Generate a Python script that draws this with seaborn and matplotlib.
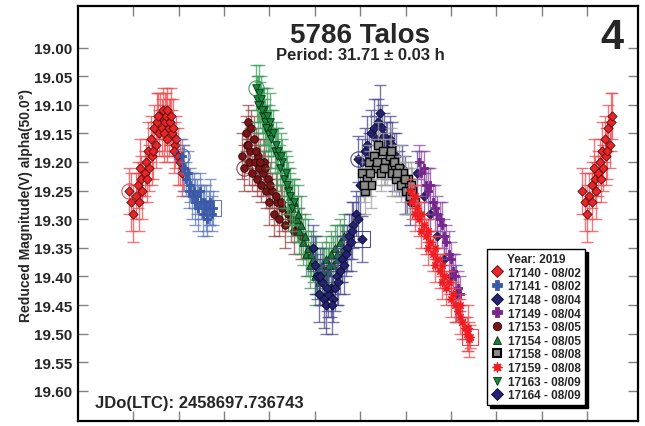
import numpy as np
import pandas as pd
import matplotlib
matplotlib.use("Agg")
import matplotlib.pyplot as plt
from matplotlib.lines import Line2D
import seaborn as sns

# ---------------- data (phase, reduced magnitude, error) ----------------
sessions = ["17140", "17141", "17148", "17149", "17153",
            "17154", "17158", "17159", "17163", "17164"]
dates = ["08/02", "08/02", "08/04", "08/04", "08/05",
         "08/05", "08/08", "08/08", "08/09", "08/09"]

ph_17140 = [-0.010, -0.005, 0.000, 0.005, 0.010, 0.012, 0.018, 0.020, 0.025, 0.028,
            0.032, 0.035, 0.040, 0.042, 0.046, 0.050, 0.053, 0.057, 0.060, 0.063,
            0.066, 0.070, 0.072, 0.075, 0.078, 0.081, 0.085, 0.088, 0.092, 0.095,
            0.099, 0.103, 0.107, 0.110, 0.015, 0.030, 0.044, 0.055, 0.068, 0.074,
            0.083, 0.090]
mg_17140 = [19.25, 19.27, 19.29, 19.26, 19.24, 19.27, 19.23, 19.25, 19.22, 19.20,
            19.18, 19.21, 19.16, 19.19, 19.14, 19.17, 19.13, 19.15, 19.12, 19.14,
            19.11, 19.13, 19.12, 19.11, 19.14, 19.13, 19.15, 19.14, 19.17, 19.16,
            19.19, 19.20, 19.22, 19.21, 19.21, 19.23, 19.18, 19.12, 19.15, 19.16,
            19.12, 19.18]
er_17140 = [0.04, 0.05, 0.05, 0.04, 0.04, 0.05, 0.04, 0.05, 0.04, 0.04,
            0.05, 0.04, 0.04, 0.05, 0.04, 0.04, 0.05, 0.04, 0.04, 0.05,
            0.04, 0.05, 0.04, 0.04, 0.05, 0.04, 0.04, 0.05, 0.04, 0.04,
            0.05, 0.04, 0.04, 0.04, 0.05, 0.04, 0.05, 0.04, 0.05, 0.04,
            0.05, 0.04]

ph_17141 = [0.108, 0.112, 0.116, 0.120, 0.123, 0.126, 0.130, 0.133, 0.136, 0.140,
            0.143, 0.146, 0.150, 0.153, 0.156, 0.160, 0.163, 0.166, 0.170, 0.173, 0.176]
mg_17141 = [19.19, 19.21, 19.23, 19.22, 19.25, 19.24, 19.26, 19.25, 19.27, 19.26,
            19.28, 19.25, 19.27, 19.29, 19.27, 19.28, 19.30, 19.28, 19.27, 19.29, 19.28]
er_17141 = [0.03, 0.04, 0.03, 0.04, 0.03, 0.03, 0.04, 0.03, 0.04, 0.03,
            0.04, 0.03, 0.03, 0.04, 0.03, 0.04, 0.03, 0.03, 0.04, 0.03, 0.03]

ph_17148 = [0.496, 0.500, 0.505, 0.510, 0.515, 0.520, 0.525, 0.530, 0.535, 0.540,
            0.544, 0.548, 0.552, 0.556, 0.560, 0.565, 0.570, 0.575, 0.580, 0.586,
            0.592, 0.598, 0.604, 0.610, 0.625, 0.640, 0.655, 0.670, 0.685, 0.700, 0.712]
mg_17148 = [19.195, 19.24, 19.20, 19.18, 19.17, 19.19, 19.15, 19.14, 19.16, 19.13,
            19.115, 19.14, 19.155, 19.17, 19.18, 19.16, 19.17, 19.20, 19.19, 19.22,
            19.21, 19.24, 19.25, 19.27, 19.22, 19.26, 19.29, 19.33, 19.37, 19.40, 19.43]
er_17148 = [0.04, 0.05, 0.04, 0.04, 0.05, 0.04, 0.04, 0.05, 0.04, 0.04,
            0.05, 0.04, 0.04, 0.04, 0.05, 0.04, 0.04, 0.05, 0.04, 0.04,
            0.04, 0.05, 0.04, 0.04, 0.04, 0.04, 0.05, 0.04, 0.04, 0.04, 0.05]

ph_17149 = [0.630, 0.635, 0.640, 0.645, 0.650, 0.655, 0.660, 0.665, 0.670, 0.675,
            0.680, 0.685, 0.690, 0.695, 0.700, 0.705, 0.710, 0.715, 0.720]
mg_17149 = [19.20, 19.22, 19.21, 19.24, 19.25, 19.24, 19.27, 19.28, 19.29, 19.30,
            19.31, 19.33, 19.34, 19.36, 19.37, 19.39, 19.40, 19.42, 19.43]
er_17149 = [0.03, 0.04, 0.03, 0.03, 0.04, 0.03, 0.03, 0.04, 0.03, 0.03,
            0.04, 0.03, 0.03, 0.04, 0.03, 0.03, 0.04, 0.03, 0.03]

ph_17153 = [0.245, 0.240, 0.248, 0.250, 0.253, 0.255, 0.258, 0.262, 0.265, 0.268,
            0.272, 0.275, 0.278, 0.282, 0.285, 0.288, 0.292, 0.296, 0.300, 0.305,
            0.310, 0.316, 0.322, 0.328, 0.334, 0.340, 0.347, 0.354, 0.362, 0.370,
            0.252, 0.260, 0.270, 0.280, 0.290, 0.302, 0.314, 0.326]
mg_17153 = [19.21, 19.19, 19.15, 19.17, 19.13, 19.20, 19.18, 19.22, 19.16, 19.20,
            19.23, 19.19, 19.21, 19.24, 19.22, 19.20, 19.25, 19.23, 19.27, 19.25,
            19.29, 19.27, 19.30, 19.28, 19.31, 19.29, 19.30, 19.32, 19.31, 19.33,
            19.17, 19.14, 19.18, 19.20, 19.21, 19.24, 19.26, 19.27]
er_17153 = [0.04, 0.04, 0.03, 0.04, 0.03, 0.04, 0.04, 0.03, 0.04, 0.04,
            0.03, 0.04, 0.04, 0.03, 0.04, 0.04, 0.03, 0.04, 0.04, 0.03,
            0.04, 0.04, 0.03, 0.04, 0.04, 0.03, 0.04, 0.04, 0.03, 0.04,
            0.04, 0.03, 0.04, 0.04, 0.03, 0.04, 0.04, 0.03]

ph_17154 = [0.340, 0.345, 0.350, 0.355, 0.360, 0.365, 0.370, 0.375, 0.380, 0.385,
            0.390, 0.395, 0.400, 0.405, 0.410, 0.415, 0.420, 0.425, 0.430, 0.435,
            0.440, 0.445, 0.450, 0.455, 0.460, 0.465, 0.470, 0.362, 0.378, 0.392,
            0.402, 0.418, 0.432, 0.448, 0.462]
mg_17154 = [19.24, 19.26, 19.28, 19.27, 19.30, 19.32, 19.31, 19.34, 19.36, 19.35,
            19.38, 19.37, 19.40, 19.39, 19.41, 19.38, 19.40, 19.37, 19.39, 19.36,
            19.38, 19.35, 19.37, 19.34, 19.36, 19.33, 19.35, 19.29, 19.33, 19.36,
            19.38, 19.39, 19.38, 19.36, 19.35]
er_17154 = [0.04, 0.04, 0.05, 0.04, 0.04, 0.04, 0.05, 0.04, 0.04, 0.05,
            0.04, 0.04, 0.05, 0.04, 0.04, 0.04, 0.05, 0.04, 0.04, 0.04,
            0.05, 0.04, 0.04, 0.04, 0.05, 0.04, 0.04, 0.05, 0.04, 0.04,
            0.05, 0.04, 0.04, 0.05, 0.04]

ph_17158 = [0.505, 0.510, 0.515, 0.520, 0.525, 0.530, 0.535, 0.540, 0.545, 0.550,
            0.555, 0.560, 0.565, 0.570, 0.575, 0.580, 0.585, 0.590, 0.595, 0.600,
            0.605, 0.610, 0.615, 0.620, 0.508, 0.522, 0.538, 0.552, 0.568, 0.582,
            0.598, 0.612]
mg_17158 = [19.22, 19.25, 19.23, 19.20, 19.24, 19.19, 19.21, 19.17, 19.22, 19.18,
            19.20, 19.21, 19.19, 19.22, 19.20, 19.23, 19.21, 19.24, 19.22, 19.25,
            19.23, 19.26, 19.25, 19.27, 19.24, 19.22, 19.20, 19.21, 19.18, 19.22,
            19.23, 19.24]
er_17158 = [0.03, 0.04, 0.03, 0.03, 0.04, 0.03, 0.03, 0.04, 0.03, 0.03,
            0.04, 0.03, 0.03, 0.04, 0.03, 0.03, 0.04, 0.03, 0.03, 0.04,
            0.03, 0.03, 0.04, 0.03, 0.03, 0.04, 0.03, 0.03, 0.04, 0.03,
            0.03, 0.04]

ph_17159 = [0.610, 0.615, 0.620, 0.620, 0.625, 0.630, 0.635, 0.635, 0.640, 0.645,
            0.650, 0.650, 0.655, 0.660, 0.665, 0.665, 0.670, 0.675, 0.680, 0.680,
            0.685, 0.690, 0.695, 0.700, 0.705, 0.710, 0.715, 0.720, 0.720, 0.725,
            0.730, 0.735, 0.738, 0.740, 0.742]
mg_17159 = [19.25, 19.27, 19.26, 19.29, 19.28, 19.30, 19.29, 19.32, 19.31, 19.33,
            19.32, 19.35, 19.34, 19.36, 19.35, 19.38, 19.37, 19.39, 19.38, 19.41,
            19.40, 19.42, 19.41, 19.44, 19.43, 19.45, 19.46, 19.47, 19.45, 19.48,
            19.49, 19.50, 19.49, 19.51, 19.505]
er_17159 = [0.02, 0.03, 0.02, 0.03, 0.02, 0.03, 0.02, 0.03, 0.02, 0.03,
            0.02, 0.03, 0.02, 0.03, 0.02, 0.03, 0.02, 0.03, 0.02, 0.03,
            0.02, 0.03, 0.02, 0.03, 0.02, 0.03, 0.02, 0.03, 0.02, 0.03,
            0.02, 0.03, 0.04, 0.03, 0.02]

ph_17163 = [0.270, 0.273, 0.276, 0.279, 0.282, 0.285, 0.288, 0.291, 0.294, 0.297,
            0.300, 0.304, 0.308, 0.312, 0.316, 0.320, 0.324, 0.328, 0.332, 0.336,
            0.340, 0.345, 0.350, 0.355, 0.274, 0.283, 0.293, 0.302, 0.314, 0.326,
            0.338]
mg_17163 = [19.07, 19.09, 19.08, 19.10, 19.09, 19.12, 19.11, 19.13, 19.12, 19.15,
            19.14, 19.16, 19.15, 19.18, 19.19, 19.18, 19.21, 19.20, 19.23, 19.22,
            19.25, 19.26, 19.28, 19.27, 19.10, 19.11, 19.14, 19.13, 19.17, 19.19,
            19.24]
er_17163 = [0.04, 0.04, 0.05, 0.04, 0.04, 0.05, 0.04, 0.04, 0.05, 0.04,
            0.04, 0.05, 0.04, 0.04, 0.05, 0.04, 0.04, 0.04, 0.05, 0.04,
            0.04, 0.05, 0.04, 0.04, 0.05, 0.04, 0.04, 0.05, 0.04, 0.04,
            0.05]

ph_17164 = [0.395, 0.400, 0.405, 0.410, 0.415, 0.420, 0.425, 0.430, 0.435, 0.440,
            0.445, 0.450, 0.455, 0.460, 0.465, 0.470, 0.475, 0.480, 0.485, 0.490,
            0.495, 0.412, 0.428, 0.438, 0.452, 0.468, 0.482, 0.504]
mg_17164 = [19.35, 19.38, 19.40, 19.43, 19.41, 19.44, 19.45, 19.43, 19.42, 19.44,
            19.42, 19.40, 19.39, 19.37, 19.38, 19.35, 19.33, 19.34, 19.31, 19.29,
            19.30, 19.40, 19.42, 19.45, 19.41, 19.36, 19.32, 19.335]
er_17164 = [0.04, 0.05, 0.04, 0.05, 0.04, 0.05, 0.05, 0.04, 0.05, 0.04,
            0.04, 0.05, 0.04, 0.04, 0.05, 0.04, 0.04, 0.05, 0.04, 0.04,
            0.04, 0.05, 0.04, 0.05, 0.04, 0.04, 0.05, 0.04]

ytick_values = [19.00, 19.05, 19.10, 19.15, 19.20, 19.25, 19.30,
                19.35, 19.40, 19.45, 19.50, 19.55, 19.60]
xtick_values = [0.0, 0.1, 0.2, 0.3, 0.4, 0.5, 0.6, 0.7, 0.8, 0.9, 1.0]

title = "5786 Talos"
subtitle = "Period: 31.71 \u00b1 0.03 h"
jd_text = "JDo(LTC): 2458697.736743"
ylabel = "Reduced Magnitude(V) alpha(50.0\u00b0)"

# ---------------- styles ----------------
colors = {"17140": "#e8262a", "17141": "#3a5aa8", "17148": "#25236f",
          "17149": "#76258c", "17153": "#7a1517", "17154": "#1c7a3b",
          "17158": "#8a8a8a", "17159": "#f01c24", "17163": "#17893b",
          "17164": "#25236f"}
errcolors = {"17140": "#ee4a4e", "17141": "#5b78b8", "17148": "#4a4890",
             "17149": "#8e4aa2", "17153": "#9a4446", "17154": "#3c9458",
             "17158": "#a0a0a0", "17159": "#f2474c", "17163": "#3a9e5a",
             "17164": "#4a4890"}
star = (8, 1, 0)
markers = {"17140": "D", "17141": "P", "17148": "D", "17149": "P",
           "17153": "o", "17154": "^", "17158": "s", "17159": star,
           "17163": "v", "17164": "D"}
msizes = {"17140": 22, "17141": 34, "17148": 22, "17149": 34, "17153": 30,
          "17154": 30, "17158": 26, "17159": 40, "17163": 30, "17164": 22}
edgec = {"17140": "#5a0a0a", "17141": "#3a5aa8", "17148": "#0a0a30",
         "17149": "#76258c", "17153": "#2a0505", "17154": "#0a3015",
         "17158": "#000000", "17159": "#f01c24", "17163": "#0a3015",
         "17164": "#0a0a30"}
first_circle = ["17140", "17141", "17153", "17163", "17148"]
last_square = ["17141", "17164", "17159"]

raw = {
    "17140": (ph_17140, mg_17140, er_17140),
    "17141": (ph_17141, mg_17141, er_17141),
    "17148": (ph_17148, mg_17148, er_17148),
    "17149": (ph_17149, mg_17149, er_17149),
    "17153": (ph_17153, mg_17153, er_17153),
    "17154": (ph_17154, mg_17154, er_17154),
    "17158": (ph_17158, mg_17158, er_17158),
    "17159": (ph_17159, mg_17159, er_17159),
    "17163": (ph_17163, mg_17163, er_17163),
    "17164": (ph_17164, mg_17164, er_17164),
}

frames = []
for s in sessions:
    p, m, e = raw[s]
    d = pd.DataFrame({"phase": p, "mag": m, "err": e, "session": s})
    frames.append(d)
    # phase-wrapped copy (plotted past 1.0)
    w = d[d["phase"] <= 0.055].copy()
    if len(w):
        w["phase"] = w["phase"] + 1.0
        frames.append(w)
df = pd.concat(frames, ignore_index=True)

# ---------------- figure ----------------
sns.set_theme(style="white")
plt.rcParams["font.family"] = ["Liberation Sans", "DejaVu Sans"]
plt.rcParams["font.weight"] = "bold"

fig = plt.figure(figsize=(6.45, 4.27), dpi=100)
ax = fig.add_axes([78 / 645, 1 - 421.7 / 427, (638 - 78) / 645, (421.7 - 7.3) / 427])

for i, s in enumerate(sessions):
    d = df[df["session"] == s]
    ax.errorbar(d["phase"], d["mag"], yerr=d["err"], fmt="none",
                ecolor=errcolors[s], elinewidth=1.0, capsize=4, capthick=1.0,
                alpha=0.75, zorder=2 + 2 * i)
    sns.scatterplot(data=d, x="phase", y="mag", marker=markers[s],
                    color=colors[s], s=msizes[s], edgecolor=edgec[s],
                    linewidth=0.6 if s != "17158" else 1.0,
                    ax=ax, legend=False, zorder=3 + 2 * i)

for s in sessions:
    p, m, e = raw[s]
    if s in first_circle:
        ax.plot(p[0], m[0], marker="o", ms=11, mfc="none", mec=colors[s],
                mew=0.8, alpha=0.8, zorder=30)
    if s in last_square:
        ax.plot(p[-1], m[-1], marker="s", ms=11, mfc="none", mec=colors[s],
                mew=0.8, alpha=0.8, zorder=30)

xl0 = -(133 - 77.7) / 454
xl1 = 1 + (638 - 587) / 454
ax.set_xlim(xl0, xl1)
ax.set_ylim(19.652, 18.928)
ax.set_xticks(xtick_values)
ax.set_xticklabels([])
ax.set_yticks(ytick_values)
ax.set_yticklabels([f"{v:.2f}" for v in ytick_values], fontsize=11, fontweight="bold")
ax.tick_params(axis="both", direction="in", length=7, width=1, color="#808080",
               top=True, right=True, left=True, bottom=True, labelsize=11, pad=4)
ax.set_xlabel("")
ax.set_ylabel("")
for sp in ax.spines.values():
    sp.set_color("black")
    sp.set_linewidth(1.6)

fig.text(26 / 645, 1 - 205 / 427, ylabel, rotation=90, ha="center", va="center",
         fontsize=10, fontweight="bold")
fig.text(360 / 645, 1 - 36 / 427, title, ha="center", va="center",
         fontsize=20, fontweight="bold")
fig.text(360 / 645, 1 - 56 / 427, subtitle, ha="center", va="center",
         fontsize=12, fontweight="bold")
fig.text(612 / 645, 1 - 38 / 427, "4", ha="center", va="center",
         fontsize=30, fontweight="bold")
fig.text(95 / 645, 1 - 404 / 427, jd_text, ha="left", va="center",
         fontsize=12, fontweight="bold")

handles = []
for s, dt in zip(sessions, dates):
    handles.append(Line2D([], [], linestyle="none", marker=markers[s],
                          markerfacecolor=colors[s],
                          markeredgecolor=edgec[s] if s != "17158" else "black",
                          markeredgewidth=0.6 if s != "17158" else 1.5,
                          markersize=6 if s not in ("17141", "17149", "17159") else 7.5,
                          label=f"{s} - {dt}"))
leg = ax.legend(handles=handles, title="Year: 2019", loc="lower left",
                bbox_to_anchor=((487 - 77.7) / 560.3, (421.7 - 406) / 414.4),
                frameon=True, fancybox=False, shadow={"color": "black", "alpha": 1},
                edgecolor="black", framealpha=1, fontsize=8.5,
                title_fontproperties={"weight": "bold", "size": 8.5},
                handlelength=1.0, handletextpad=0.5, labelspacing=0.14,
                borderpad=0.3, borderaxespad=0)
leg.get_frame().set_linewidth(1.0)
for t in leg.get_texts():
    t.set_fontweight("bold")
leg.set_zorder(50)

fig.savefig("out.png", dpi=100)
